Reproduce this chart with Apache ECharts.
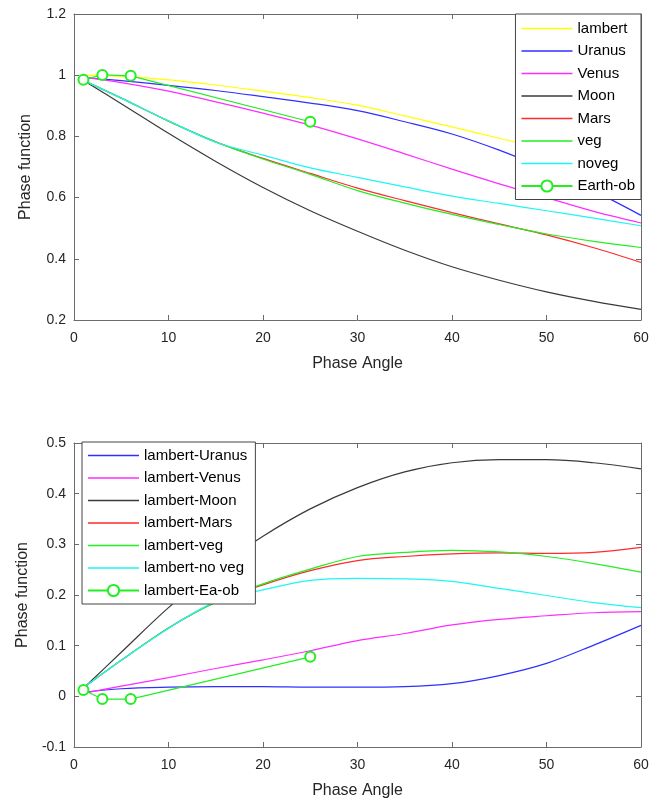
<!DOCTYPE html>
<html>
<head>
<meta charset="utf-8">
<script src="https://cdn.jsdelivr.net/npm/echarts@6/dist/echarts.min.js"></script>
<style>
  html, body { margin: 0; padding: 0; background: #fff; }
  #main { width: 665px; height: 802px; }
</style>
</head>
<body>
<div id="main"></div>
<script>
// phase angles (deg) where the curves were read
const angles = [1, 5, 10, 15, 20, 25, 30, 35, 40, 45, 50, 55, 60];

// top panel: phase functions
const lambert = [1.0, 0.996, 0.985, 0.968, 0.948, 0.927, 0.902, 0.867, 0.831, 0.794, 0.757, 0.72, 0.683];
const uranus = [0.992, 0.982, 0.967, 0.95, 0.93, 0.909, 0.884, 0.848, 0.808, 0.755, 0.692, 0.622, 0.542];
const venus = [0.994, 0.976, 0.948, 0.913, 0.876, 0.837, 0.792, 0.743, 0.693, 0.645, 0.6, 0.555, 0.517];
const moon = [0.983, 0.907, 0.81, 0.718, 0.633, 0.557, 0.49, 0.428, 0.374, 0.33, 0.292, 0.261, 0.235];
const mars = [0.983, 0.925, 0.85, 0.782, 0.728, 0.679, 0.631, 0.59, 0.551, 0.514, 0.478, 0.436, 0.388];
const veg = [0.983, 0.925, 0.85, 0.782, 0.726, 0.676, 0.623, 0.582, 0.545, 0.512, 0.481, 0.457, 0.437];
const noveg = [0.983, 0.925, 0.851, 0.781, 0.739, 0.697, 0.666, 0.635, 0.605, 0.581, 0.557, 0.533, 0.508];

// Earth observations
const obsAngles = [1, 3, 6, 25];
const earthOb = [0.985, 1.001, 0.998, 0.848];

// bottom panel: lambert minus each
const dUranus = [0.008, 0.015, 0.018, 0.019, 0.019, 0.018, 0.018, 0.019, 0.025, 0.041, 0.065, 0.101, 0.14];
const dVenus = [0.006, 0.02, 0.037, 0.055, 0.072, 0.09, 0.11, 0.124, 0.141, 0.152, 0.159, 0.165, 0.167];
const dMoon = [0.016, 0.087, 0.175, 0.252, 0.316, 0.37, 0.412, 0.443, 0.461, 0.467, 0.467, 0.461, 0.449];
const dMars = [0.017, 0.071, 0.135, 0.186, 0.22, 0.248, 0.268, 0.276, 0.281, 0.283, 0.282, 0.284, 0.294];
const dVeg = [0.017, 0.071, 0.135, 0.186, 0.222, 0.251, 0.276, 0.284, 0.288, 0.285, 0.276, 0.262, 0.245];
const dNoveg = [0.017, 0.071, 0.134, 0.187, 0.21, 0.229, 0.233, 0.232, 0.227, 0.213, 0.199, 0.185, 0.175];
const dEarthOb = [0.0124, -0.0054, -0.0054, 0.078];

const xTicks = [0, 10, 20, 30, 40, 50, 60];

const FONT = "'Liberation Sans', Arial, Helvetica, sans-serif";
const TXT = '#262626';
const AX = '#6b6b6b';
const LINE_ICON = 'path://M0,0 H51 V1.3 H0 Z';

function curve(name, color, xs, ys, panel) {
  return {
    name: name, type: 'line', xAxisIndex: panel * 2, yAxisIndex: panel * 2,
    data: xs.map((x, i) => [x, ys[i]]),
    symbol: 'none', smooth: 0.35,
    lineStyle: { color: color, width: 1.2 }, itemStyle: { color: color },
    z: 2
  };
}
function obs(name, xs, ys, panel) {
  return {
    name: name, type: 'line', xAxisIndex: panel * 2, yAxisIndex: panel * 2,
    data: xs.map((x, i) => [x, ys[i]]),
    symbol: 'emptyCircle', symbolSize: 10, showSymbol: true,
    lineStyle: { color: '#22ee22', width: 1.2 },
    itemStyle: { color: '#22ee22', borderWidth: 1.3 },
    z: 3
  };
}

function xAx(grid, pos) {
  const main = pos === 'bottom';
  return {
    type: 'value', gridIndex: grid, position: pos, min: 0, max: 60, interval: 10,
    name: main ? 'Phase Angle' : '', nameLocation: 'middle', nameGap: 36,
    nameTextStyle: { fontFamily: FONT, fontSize: 16, color: TXT },
    axisLine: { show: true, onZero: false, lineStyle: { color: AX, width: 1 } },
    axisTick: { show: true, inside: true, length: 5, lineStyle: { color: AX } },
    axisLabel: { show: main, margin: 11, fontFamily: FONT, fontSize: 14, color: TXT,
      formatter: v => xTicks.includes(v) ? String(v) : '' },
    splitLine: { show: false }
  };
}
function yAx(grid, pos, min, max, step, gap) {
  const main = pos === 'left';
  return {
    type: 'value', gridIndex: grid, position: pos, min: min, max: max, interval: step,
    name: main ? 'Phase function' : '', nameLocation: 'middle', nameGap: gap,
    nameTextStyle: { fontFamily: FONT, fontSize: 16, color: TXT },
    axisLine: { show: true, onZero: false, lineStyle: { color: AX, width: 1 } },
    axisTick: { show: true, inside: true, length: 5, lineStyle: { color: AX } },
    axisLabel: { show: main, margin: 8, fontFamily: FONT, fontSize: 14, color: TXT },
    splitLine: { show: false }
  };
}

function legendItems(names, obsName) {
  return names.map(n => n === obsName ? { name: n } : { name: n, icon: LINE_ICON });
}

const legendBase = {
  orient: 'vertical', backgroundColor: '#fff', borderColor: '#444', borderWidth: 1,
  itemWidth: 51, itemHeight: 14, itemGap: 7.5,
  textStyle: { fontFamily: FONT, fontSize: 15, color: '#000' },
  selectedMode: false, z: 10
};

const option = {
  animation: false,
  backgroundColor: '#fff',
  grid: [
    { left: 74, top: 14, width: 567, height: 306 },
    { left: 74, top: 443, width: 567, height: 304 }
  ],
  xAxis: [xAx(0, 'bottom'), xAx(0, 'top'), xAx(1, 'bottom'), xAx(1, 'top')],
  yAxis: [
    yAx(0, 'left', 0.2, 1.2, 0.2, 40), yAx(0, 'right', 0.2, 1.2, 0.2, 40),
    yAx(1, 'left', -0.1, 0.5, 0.1, 43), yAx(1, 'right', -0.1, 0.5, 0.1, 43)
  ],
  legend: [
    Object.assign({}, legendBase, {
      right: 24, top: 14, padding: [7, 6, 6, 5],
      data: legendItems(['lambert', 'Uranus', 'Venus', 'Moon', 'Mars', 'veg', 'noveg', 'Earth-ob'], 'Earth-ob')
    }),
    Object.assign({}, legendBase, {
      left: 82, top: 442, padding: [6, 8, 6, 5],
      data: legendItems(['lambert-Uranus', 'lambert-Venus', 'lambert-Moon', 'lambert-Mars',
        'lambert-veg', 'lambert-no veg', 'lambert-Ea-ob'], 'lambert-Ea-ob')
    })
  ],
  series: [
    curve('lambert', '#ffff00', angles, lambert, 0),
    curve('Uranus', '#2f2fff', angles, uranus, 0),
    curve('Venus', '#ff2cff', angles, venus, 0),
    curve('Moon', '#3a3a3a', angles, moon, 0),
    curve('Mars', '#ff2a2a', angles, mars, 0),
    curve('veg', '#22ee22', angles, veg, 0),
    curve('noveg', '#1ff5f5', angles, noveg, 0),
    obs('Earth-ob', obsAngles, earthOb, 0),
    curve('lambert-Uranus', '#2f2fff', angles, dUranus, 1),
    curve('lambert-Venus', '#ff2cff', angles, dVenus, 1),
    curve('lambert-Moon', '#3a3a3a', angles, dMoon, 1),
    curve('lambert-Mars', '#ff2a2a', angles, dMars, 1),
    curve('lambert-veg', '#22ee22', angles, dVeg, 1),
    curve('lambert-no veg', '#1ff5f5', angles, dNoveg, 1),
    obs('lambert-Ea-ob', obsAngles, dEarthOb, 1)
  ]
};

const chart = echarts.init(document.getElementById('main'));
chart.setOption(option);
</script>
</body>
</html>
